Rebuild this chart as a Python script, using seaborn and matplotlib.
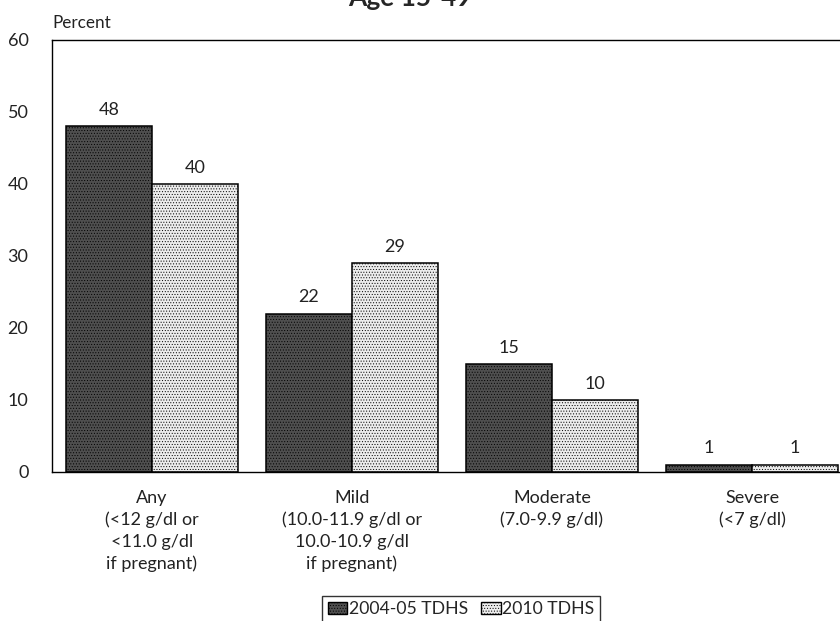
import matplotlib
matplotlib.use("Agg")
import matplotlib.pyplot as plt
import seaborn as sns
import pandas as pd
from matplotlib.patches import Patch

categories = ["Any\n(<12 g/dl or\n<11.0 g/dl\nif pregnant)",
              "Mild\n(10.0-11.9 g/dl or\n10.0-10.9 g/dl\nif pregnant)",
              "Moderate\n(7.0-9.9 g/dl)",
              "Severe\n(<7 g/dl)"]
series_names = ["2004-05 TDHS", "2010 TDHS"]
tdhs_2004 = [48, 22, 15, 1]
tdhs_2010 = [40, 29, 10, 1]
yticks = [0, 10, 20, 30, 40, 50, 60]

df = pd.DataFrame({
    "Category": categories * 2,
    "Survey": [series_names[0]] * 4 + [series_names[1]] * 4,
    "Percent": tdhs_2004 + tdhs_2010,
})

sns.set_theme(style="white")
plt.rcParams["font.family"] = ["Lato", "DejaVu Sans"]
plt.rcParams["hatch.linewidth"] = 0.4

fig = plt.figure(figsize=(8.4, 6.21), dpi=100)
ax = fig.add_axes([52 / 840, 149 / 621, 800 / 840, 432 / 621])

colors = ["#4f4f4f", "#ececec"]
sns.barplot(data=df, x="Category", y="Percent", hue="Survey",
            hue_order=series_names, order=categories, palette=colors,
            width=0.86, saturation=1, edgecolor="black", linewidth=1.1,
            legend=False, ax=ax, errorbar=None)

for cont in ax.containers:
    for bar in cont:
        bar.set_hatch("......")
    ax.bar_label(cont, padding=6, fontsize=13, color="#222222")

ax.set_xlim(-0.5, 3.5)
ax.set_ylim(0, 60)
ax.set_yticks(yticks)
ax.set_xlabel("")
ax.set_ylabel("")
ax.tick_params(axis="both", length=0, labelsize=13, colors="#222222")
ax.tick_params(axis="y", pad=17)
ax.tick_params(axis="x", pad=13)
for lab in ax.get_xticklabels():
    lab.set_linespacing(1.42)
for sp in ax.spines.values():
    sp.set_color("black")
    sp.set_linewidth(1.0)

fig.text(52 / 840, 1 - 23 / 621, "Percent", fontsize=12.3, va="center",
         ha="left", color="#222222")
fig.text(410 / 840, 1 - 6 / 621, "Age 15-49", fontsize=19,
         fontweight="bold", ha="center", va="baseline")

handles = [Patch(facecolor=colors[0], edgecolor="black", hatch="......",
                 label=series_names[0]),
           Patch(facecolor=colors[1], edgecolor="black", hatch="......",
                 label=series_names[1])]
leg = fig.legend(handles=handles, loc="upper center",
                 bbox_to_anchor=(461 / 840, 1 - 596 / 621), ncol=2,
                 frameon=True, fancybox=False, fontsize=12.7,
                 handlelength=1.1, handleheight=0.7, handletextpad=0.1,
                 columnspacing=0.75, borderpad=0.3, borderaxespad=0)
leg.get_frame().set_edgecolor("black")
leg.get_frame().set_linewidth(1.0)

fig.savefig("out.png", dpi=100)
